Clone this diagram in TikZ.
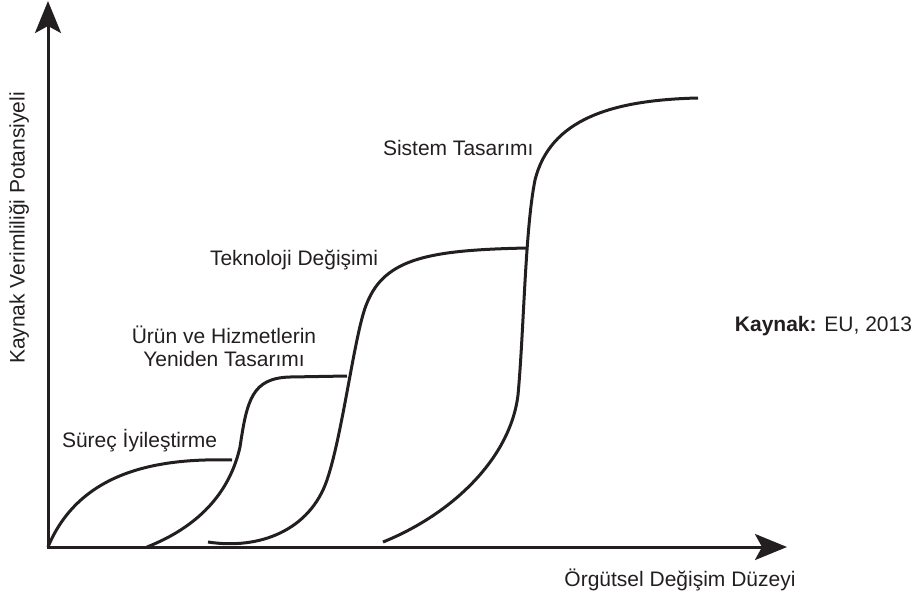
\documentclass[tikz,border=0pt]{standalone}
\usepackage{fontspec}
\setmainfont{Liberation Sans}
\usetikzlibrary{arrows.meta}
\usetikzlibrary{positioning}
\definecolor{ink}{RGB}{35,31,32}
\tikzstyle{base}=[x=1pt, y=-1pt, inner sep=0pt, outer sep=0pt, font=\fontsize{21}{23}\selectfont, text=ink]
\tikzstyle{axis}=[draw=ink, line width=3pt, -{Stealth[length=32pt, width=26pt, inset=7pt]}]
\tikzstyle{curve}=[draw=ink, line width=3pt]
\tikzstyle{label}=[anchor=west]

\begin{document}
\begin{tikzpicture}[base]
        \path[use as bounding box] (0,0) rectangle (916,595);
        \coordinate (origin) at (48,547);
        \coordinate (ytip) at (48,1);
        \coordinate (xtip) at (787,547);
        \draw[axis] (48,549) -- (ytip);
        \draw[axis] (46.5,547) -- (xtip);
        \draw[curve] (origin) .. controls (80,470) and (160,458) .. (232,460);
        \draw[curve] (147,547) .. controls (190,530) and (228,500) .. (240,447)
            .. controls (247,400) and (252,378) .. (290,377) -- (347,376);
        \draw[curve] (208,542) .. controls (260,550) and (310,530) .. (327,480)
            .. controls (343,433) and (355,330) .. (367,303)
            .. controls (385,258) and (430,250) .. (527,248);
        \draw[curve] (383,542) .. controls (450,515) and (510,460) .. (518,395)
            .. controls (524,330) and (525,230) .. (535,180)
            .. controls (550,120) and (610,100) .. (698,98);
        \node[label] (surec) at (62,441) {Süreç İyileştirme};
        \node[align=center] (urun) at (224,346) {Ürün ve Hizmetlerin\\Yeniden Tasarımı};
        \node[label] (teknoloji) at (210,260) {Teknoloji Değişimi};
        \node[label] (sistem) at (383,148) {Sistem Tasarımı};
        \node[anchor=east] (kaynak) at (912,326) {\textbf{Kaynak:} EU, 2013};
        \node[rotate=90] (ylabel) at (19,228) {Kaynak Verimliliği Potansiyeli};
        \node (xlabel) at (680,580) {Örgütsel Değişim Düzeyi};
    \end{tikzpicture}
\end{document}
